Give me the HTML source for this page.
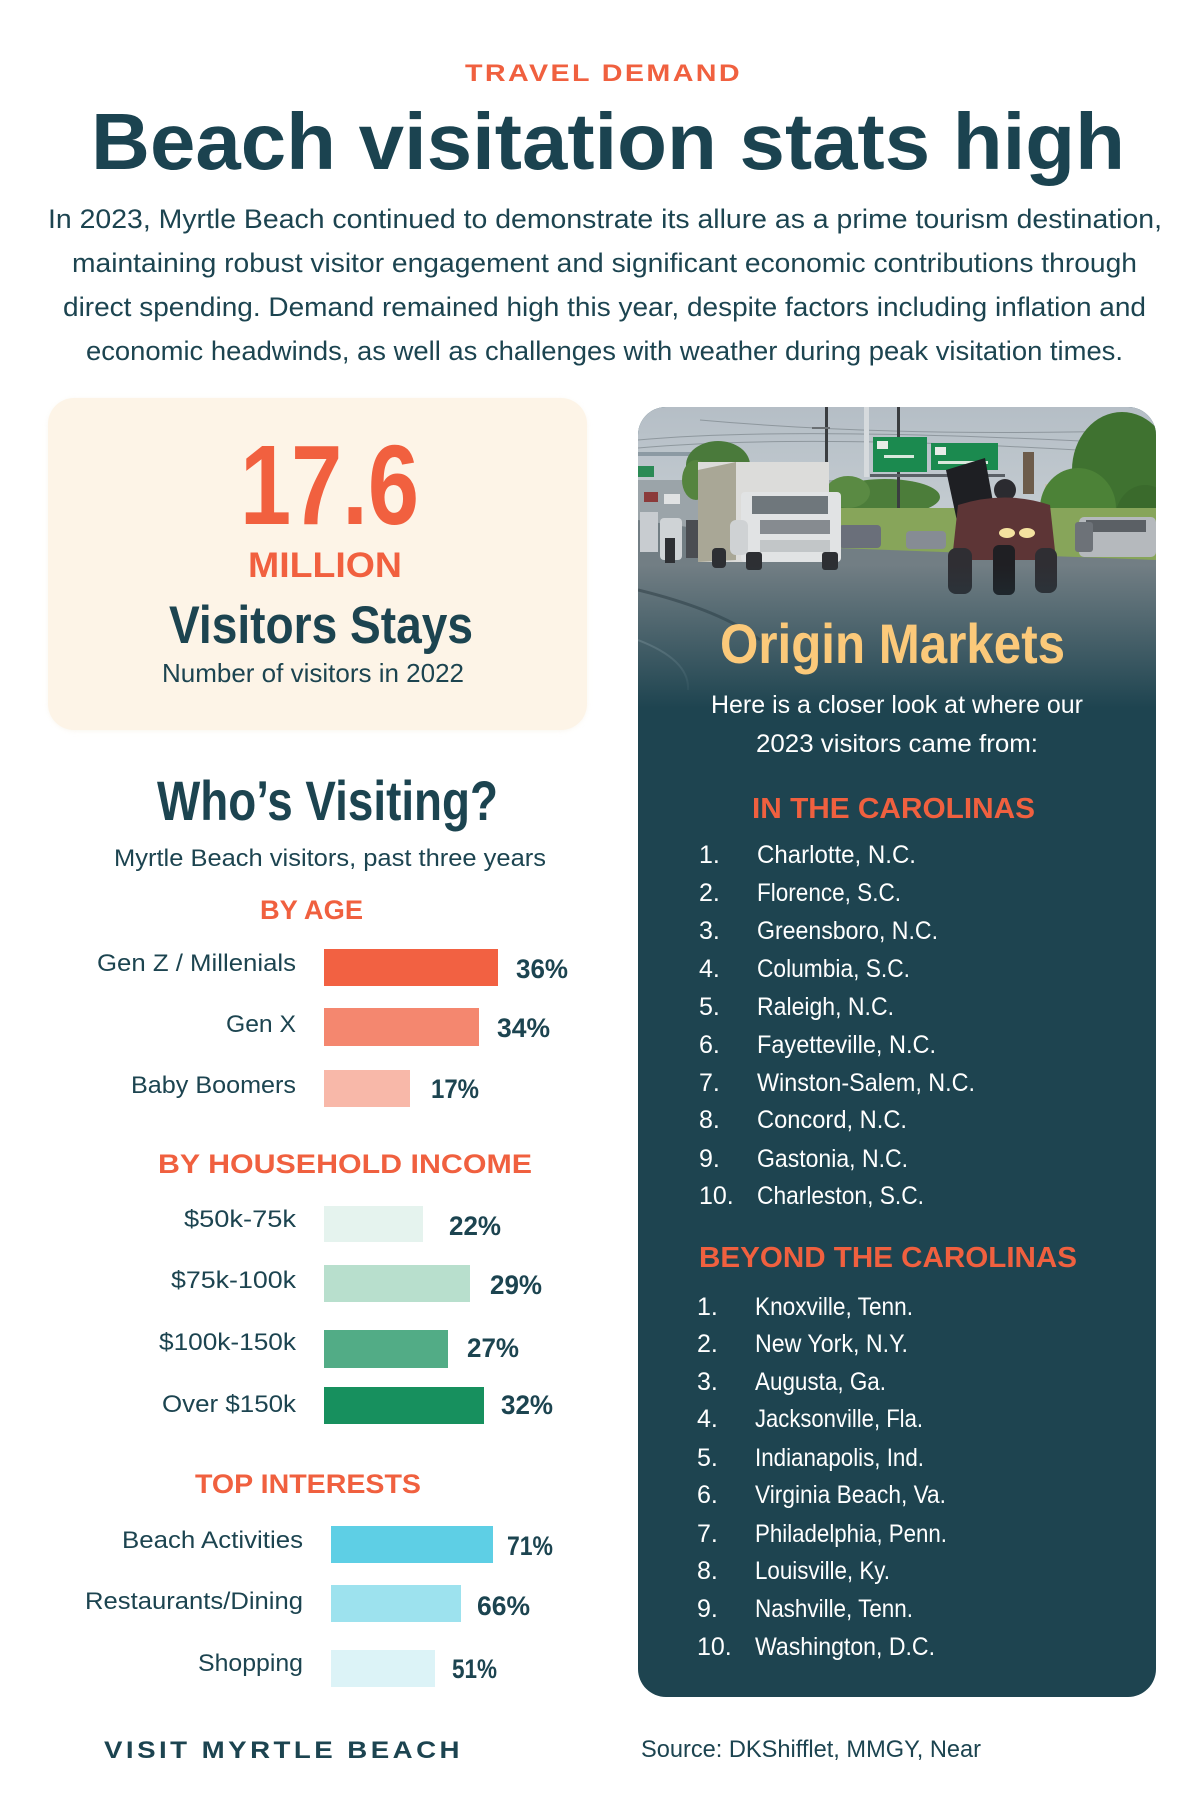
<!DOCTYPE html>
<html><head><meta charset="utf-8"><style>
html,body{margin:0;padding:0;background:#fff;}
svg{display:block;}
</style></head><body>
<svg width="1200" height="1797" viewBox="0 0 1200 1797" xmlns="http://www.w3.org/2000/svg" font-family="'Liberation Sans', sans-serif">
<defs>
  <clipPath id="cardclip"><rect x="638" y="407" width="518" height="1290" rx="28"/></clipPath>
  <linearGradient id="sky" x1="0" y1="0" x2="0" y2="1">
    <stop offset="0" stop-color="#b5bec6"/><stop offset="1" stop-color="#cbd2d6"/>
  </linearGradient>
  <linearGradient id="fade" gradientUnits="userSpaceOnUse" x1="0" y1="565" x2="0" y2="708">
    <stop offset="0" stop-color="#1e4450" stop-opacity="0"/>
    <stop offset="1" stop-color="#1e4450" stop-opacity="1"/>
  </linearGradient>
  <filter id="sh" x="-10%" y="-10%" width="120%" height="120%">
    <feGaussianBlur stdDeviation="3"/>
  </filter>
</defs>

<!-- Header -->
<text x="465" y="81" font-size="24" font-weight="bold" fill="#f0603f" textLength="277" lengthAdjust="spacingAndGlyphs" letter-spacing="2">TRAVEL DEMAND</text>
<text x="91" y="169" font-size="80" font-weight="bold" fill="#1b4350" textLength="1034" lengthAdjust="spacingAndGlyphs">Beach visitation stats high</text>
<g font-size="27" fill="#1c4450">
<text x="48" y="228" textLength="1114" lengthAdjust="spacingAndGlyphs">In 2023, Myrtle Beach continued to demonstrate its allure as a prime tourism destination,</text>
<text x="72" y="272" textLength="1065" lengthAdjust="spacingAndGlyphs">maintaining robust visitor engagement and significant economic contributions through</text>
<text x="63" y="316" textLength="1083" lengthAdjust="spacingAndGlyphs">direct spending. Demand remained high this year, despite factors including inflation and</text>
<text x="86" y="360" textLength="1037" lengthAdjust="spacingAndGlyphs">economic headwinds, as well as challenges with weather during peak visitation times.</text>
</g>

<!-- Left stat card -->
<rect x="49" y="400" width="537" height="330" rx="26" fill="#f3ead9" filter="url(#sh)" opacity="0.6"/>
<rect x="48" y="398" width="539" height="332" rx="26" fill="#fdf4e7"/>
<text x="240" y="524" font-size="113" font-weight="bold" fill="#f1603f" textLength="179" lengthAdjust="spacingAndGlyphs">17.6</text>
<text x="248" y="577" font-size="35" font-weight="bold" fill="#f1603f" textLength="154" lengthAdjust="spacingAndGlyphs">MILLION</text>
<text x="169" y="643" font-size="53" font-weight="bold" fill="#1c4450" textLength="304" lengthAdjust="spacingAndGlyphs">Visitors Stays</text>
<text x="162" y="682" font-size="26" fill="#1c4450" textLength="302" lengthAdjust="spacingAndGlyphs">Number of visitors in 2022</text>

<!-- Who's visiting -->
<text x="157" y="820" font-size="56" font-weight="bold" fill="#1c4450" textLength="341" lengthAdjust="spacingAndGlyphs">Who’s Visiting?</text>
<text x="114" y="866" font-size="24" fill="#1c4450" textLength="432" lengthAdjust="spacingAndGlyphs">Myrtle Beach visitors, past three years</text>

<g font-size="27" font-weight="bold" fill="#f0603f">
<text x="260" y="919" textLength="103" lengthAdjust="spacingAndGlyphs">BY AGE</text>
<text x="158" y="1173" textLength="374" lengthAdjust="spacingAndGlyphs">BY HOUSEHOLD INCOME</text>
<text x="195" y="1493" textLength="226" lengthAdjust="spacingAndGlyphs">TOP INTERESTS</text>
</g>

<!-- Age bars -->
<rect x="324" y="949" width="174" height="37" fill="#f26142"/>
<rect x="324" y="1008" width="155" height="38" fill="#f4876f"/>
<rect x="324" y="1070" width="86" height="37" fill="#f8b8a9"/>
<!-- Income bars -->
<rect x="324" y="1206" width="99" height="36" fill="#e5f3ee"/>
<rect x="324" y="1265" width="146" height="37" fill="#b8dfcd"/>
<rect x="324" y="1330" width="124" height="38" fill="#52ac86"/>
<rect x="324" y="1387" width="160" height="37" fill="#17905e"/>
<!-- Interest bars -->
<rect x="331" y="1526" width="162" height="37" fill="#5ecfe5"/>
<rect x="331" y="1585" width="130" height="37" fill="#9de2ee"/>
<rect x="331" y="1650" width="104" height="37" fill="#dcf3f7"/>

<g font-size="24" fill="#1c4450">
<text x="97" y="971" textLength="199" lengthAdjust="spacingAndGlyphs">Gen Z / Millenials</text>
<text x="226" y="1032" textLength="70" lengthAdjust="spacingAndGlyphs">Gen X</text>
<text x="131" y="1093" textLength="165" lengthAdjust="spacingAndGlyphs">Baby Boomers</text>
<text x="184" y="1227" textLength="112" lengthAdjust="spacingAndGlyphs">$50k-75k</text>
<text x="171" y="1288" textLength="125" lengthAdjust="spacingAndGlyphs">$75k-100k</text>
<text x="159" y="1350" textLength="137" lengthAdjust="spacingAndGlyphs">$100k-150k</text>
<text x="162" y="1412" textLength="134" lengthAdjust="spacingAndGlyphs">Over $150k</text>
<text x="122" y="1548" textLength="181" lengthAdjust="spacingAndGlyphs">Beach Activities</text>
<text x="85" y="1609" textLength="218" lengthAdjust="spacingAndGlyphs">Restaurants/Dining</text>
<text x="198" y="1671" textLength="105" lengthAdjust="spacingAndGlyphs">Shopping</text>
</g>

<g font-size="27" font-weight="bold" fill="#1c4450">
<text x="516" y="978" textLength="52" lengthAdjust="spacingAndGlyphs">36%</text>
<text x="497" y="1037" textLength="53" lengthAdjust="spacingAndGlyphs">34%</text>
<text x="431" y="1098" textLength="48" lengthAdjust="spacingAndGlyphs">17%</text>
<text x="449" y="1235" textLength="52" lengthAdjust="spacingAndGlyphs">22%</text>
<text x="490" y="1294" textLength="52" lengthAdjust="spacingAndGlyphs">29%</text>
<text x="467" y="1357" textLength="52" lengthAdjust="spacingAndGlyphs">27%</text>
<text x="501" y="1414" textLength="52" lengthAdjust="spacingAndGlyphs">32%</text>
<text x="507" y="1555" textLength="46" lengthAdjust="spacingAndGlyphs">71%</text>
<text x="477" y="1615" textLength="53" lengthAdjust="spacingAndGlyphs">66%</text>
<text x="452" y="1678" textLength="45" lengthAdjust="spacingAndGlyphs">51%</text>
</g>

<!-- Right card -->
<rect x="638" y="407" width="518" height="1290" rx="28" fill="#1e4450"/>
<g clip-path="url(#cardclip)">
  <!-- sky -->
  <rect x="638" y="407" width="518" height="160" fill="url(#sky)"/>
  <!-- power lines -->
  <g stroke="#7d868c" stroke-width="1" fill="none" opacity="0.7">
    <path d="M638 440 Q800 425 1156 445"/>
    <path d="M638 448 Q820 432 1156 455"/>
    <path d="M700 420 Q900 438 1156 430"/>
  </g>
  <!-- tower -->
  <rect x="864" y="407" width="5" height="70" fill="#d6dadd"/>
  <!-- left gantry -->
  <rect x="638" y="452" width="58" height="4" fill="#8c9aa3"/>
  <rect x="638" y="466" width="16" height="11" fill="#2a8a55"/>
  <!-- distant road left -->
  <rect x="638" y="480" width="200" height="75" fill="#9ba4a9"/>
  <!-- left trees -->
  <ellipse cx="718" cy="465" rx="32" ry="24" fill="#4a7a3b"/>
  <ellipse cx="696" cy="480" rx="14" ry="20" fill="#55843f"/>
  <!-- middle trees -->
  <ellipse cx="885" cy="497" rx="55" ry="18" fill="#4c7d3a"/>
  <ellipse cx="848" cy="492" rx="22" ry="16" fill="#5a8a43"/>
  <!-- right building & chimney -->
  <rect x="1045" y="484" width="28" height="24" fill="#c8c0b0"/>
  <rect x="1023" y="452" width="11" height="42" fill="#6d5c4b"/>
  <!-- right trees -->
  <ellipse cx="1122" cy="470" rx="50" ry="58" fill="#3f7230"/>
  <ellipse cx="1078" cy="508" rx="38" ry="40" fill="#4c8237"/>
  <ellipse cx="1145" cy="520" rx="30" ry="35" fill="#3a6a2c"/>
  <!-- poles -->
  <rect x="825" y="407" width="3" height="57" fill="#3a3d40"/>
  <rect x="897" y="407" width="3" height="105" fill="#3a3d40"/>
  <rect x="812" y="427" width="18" height="2" fill="#6a6f73"/>
  <!-- green signs -->
  <rect x="870" y="474" width="135" height="3" fill="#5a6066"/>
  <rect x="873" y="437" width="54" height="35" fill="#1b8a4f"/>
  <rect x="877" y="441" width="11" height="8" fill="#e8ece8"/>
  <rect x="884" y="455" width="30" height="3" fill="#d8e8dc"/>
  <rect x="931" y="443" width="67" height="27" fill="#1b8a4f"/>
  <rect x="935" y="447" width="11" height="8" fill="#e8ece8"/>
  <rect x="938" y="461" width="50" height="3" fill="#d8e8dc"/>
  <!-- grass -->
  <polygon points="836,508 1156,508 1156,563 836,550" fill="#87a55a"/>
  <!-- road -->
  <polygon points="638,520 836,548 1156,560 1156,720 638,720" fill="#727e84"/>
  <path d="M638 590 Q720 610 760 640" stroke="#4f5a60" stroke-width="3" fill="none"/>
  <path d="M638 640 Q690 660 688 690" stroke="#a4adb2" stroke-width="2" fill="none"/>
  <!-- parked cars -->
  <rect x="839" y="525" width="42" height="23" rx="4" fill="#6a6f7a"/>
  <rect x="906" y="531" width="40" height="18" rx="4" fill="#868c94"/>
  <rect x="1079" y="517" width="77" height="40" rx="5" fill="#b5b9bd"/>
  <rect x="1086" y="520" width="60" height="12" fill="#5b6065"/>
  <rect x="1075" y="522" width="18" height="30" rx="3" fill="#6d7278"/>
  <!-- left cars/motorcycles -->
  <rect x="644" y="492" width="14" height="10" fill="#8b3a3a"/>
  <rect x="664" y="494" width="16" height="10" fill="#e0e2e3"/>
  <rect x="640" y="512" width="18" height="40" fill="#c8ccd0"/>
  <rect x="660" y="518" width="22" height="42" rx="4" fill="#cfd3d6"/>
  <rect x="665" y="538" width="10" height="25" fill="#2e3034"/>
  <rect x="686" y="520" width="12" height="38" fill="#4a4d52"/>
  <!-- trailer -->
  <rect x="698" y="462" width="131" height="100" fill="#dcdcda"/>
  <polygon points="698,470 736,462 736,560 698,562" fill="#a9a796"/>
  <rect x="712" y="548" width="14" height="20" rx="4" fill="#2d2f33"/>
  <!-- truck -->
  <rect x="741" y="492" width="100" height="70" rx="4" fill="#e1e3e4"/>
  <rect x="752" y="496" width="76" height="18" fill="#6f777c"/>
  <rect x="760" y="520" width="70" height="14" fill="#868b90"/>
  <rect x="760" y="540" width="70" height="12" fill="#c2c6c8"/>
  <rect x="730" y="520" width="18" height="35" rx="6" fill="#cfd2d4"/>
  <rect x="746" y="552" width="16" height="18" rx="3" fill="#2d2f33"/>
  <rect x="822" y="552" width="16" height="18" rx="3" fill="#2d2f33"/>
  <!-- motorcycle with flags -->
  <polygon points="946,470 985,458 1000,540 960,535" fill="#1e1f23"/>
  <circle cx="1005" cy="490" r="11" fill="#2b2b30"/>
  <path d="M958 505 Q1005 490 1050 505 L1056 560 L952 560 Z" fill="#5d3536"/>
  <ellipse cx="1007" cy="533" rx="8" ry="5" fill="#f4e2a0"/>
  <ellipse cx="1027" cy="533" rx="8" ry="5" fill="#f4e2a0"/>
  <rect x="948" y="548" width="24" height="46" rx="8" fill="#2f2e33"/>
  <rect x="1035" y="548" width="22" height="45" rx="8" fill="#2f2e33"/>
  <rect x="993" y="545" width="22" height="50" rx="6" fill="#1f1f23"/>
  <!-- fade -->
  <rect x="638" y="560" width="518" height="160" fill="url(#fade)"/>
</g>

<text x="720" y="663" font-size="56" font-weight="bold" fill="#fbc97a" textLength="345" lengthAdjust="spacingAndGlyphs">Origin Markets</text>
<text x="711" y="713" font-size="25" fill="#ffffff" textLength="372" lengthAdjust="spacingAndGlyphs">Here is a closer look at where our</text>
<text x="756" y="752" font-size="25" fill="#ffffff" textLength="282" lengthAdjust="spacingAndGlyphs">2023 visitors came from:</text>

<text x="752" y="818" font-size="29" font-weight="bold" fill="#f0603f" textLength="283" lengthAdjust="spacingAndGlyphs">IN THE CAROLINAS</text>
<g font-size="25" fill="#ffffff">
<text x="699" y="863">1.</text><text x="757" y="863" textLength="159" lengthAdjust="spacingAndGlyphs">Charlotte, N.C.</text>
<text x="699" y="901">2.</text><text x="757" y="901" textLength="144" lengthAdjust="spacingAndGlyphs">Florence, S.C.</text>
<text x="699" y="939">3.</text><text x="757" y="939" textLength="181" lengthAdjust="spacingAndGlyphs">Greensboro, N.C.</text>
<text x="699" y="977">4.</text><text x="757" y="977" textLength="153" lengthAdjust="spacingAndGlyphs">Columbia, S.C.</text>
<text x="699" y="1015">5.</text><text x="757" y="1015" textLength="137" lengthAdjust="spacingAndGlyphs">Raleigh, N.C.</text>
<text x="699" y="1053">6.</text><text x="757" y="1053" textLength="179" lengthAdjust="spacingAndGlyphs">Fayetteville, N.C.</text>
<text x="699" y="1091">7.</text><text x="757" y="1091" textLength="218" lengthAdjust="spacingAndGlyphs">Winston-Salem, N.C.</text>
<text x="699" y="1128">8.</text><text x="757" y="1128" textLength="150" lengthAdjust="spacingAndGlyphs">Concord, N.C.</text>
<text x="699" y="1167">9.</text><text x="757" y="1167" textLength="151" lengthAdjust="spacingAndGlyphs">Gastonia, N.C.</text>
<text x="699" y="1204">10.</text><text x="757" y="1204" textLength="167" lengthAdjust="spacingAndGlyphs">Charleston, S.C.</text>
</g>

<text x="699" y="1267" font-size="29" font-weight="bold" fill="#f0603f" textLength="378" lengthAdjust="spacingAndGlyphs">BEYOND THE CAROLINAS</text>
<g font-size="25" fill="#ffffff">
<text x="697" y="1315">1.</text><text x="755" y="1315" textLength="158" lengthAdjust="spacingAndGlyphs">Knoxville, Tenn.</text>
<text x="697" y="1352">2.</text><text x="755" y="1352" textLength="153" lengthAdjust="spacingAndGlyphs">New York, N.Y.</text>
<text x="697" y="1390">3.</text><text x="755" y="1390" textLength="131" lengthAdjust="spacingAndGlyphs">Augusta, Ga.</text>
<text x="697" y="1427">4.</text><text x="755" y="1427" textLength="168" lengthAdjust="spacingAndGlyphs">Jacksonville, Fla.</text>
<text x="697" y="1466">5.</text><text x="755" y="1466" textLength="169" lengthAdjust="spacingAndGlyphs">Indianapolis, Ind.</text>
<text x="697" y="1503">6.</text><text x="755" y="1503" textLength="191" lengthAdjust="spacingAndGlyphs">Virginia Beach, Va.</text>
<text x="697" y="1542">7.</text><text x="755" y="1542" textLength="192" lengthAdjust="spacingAndGlyphs">Philadelphia, Penn.</text>
<text x="697" y="1579">8.</text><text x="755" y="1579" textLength="135" lengthAdjust="spacingAndGlyphs">Louisville, Ky.</text>
<text x="697" y="1617">9.</text><text x="755" y="1617" textLength="158" lengthAdjust="spacingAndGlyphs">Nashville, Tenn.</text>
<text x="697" y="1655">10.</text><text x="755" y="1655" textLength="180" lengthAdjust="spacingAndGlyphs">Washington, D.C.</text>
</g>

<!-- Footer -->
<text x="104" y="1758" font-size="24" font-weight="bold" fill="#1c4450" letter-spacing="3" textLength="359" lengthAdjust="spacingAndGlyphs">VISIT MYRTLE BEACH</text>
<text x="641" y="1757" font-size="24" fill="#1c4450" textLength="340" lengthAdjust="spacingAndGlyphs">Source: DKShifflet, MMGY, Near</text>
</svg>
</body></html>
